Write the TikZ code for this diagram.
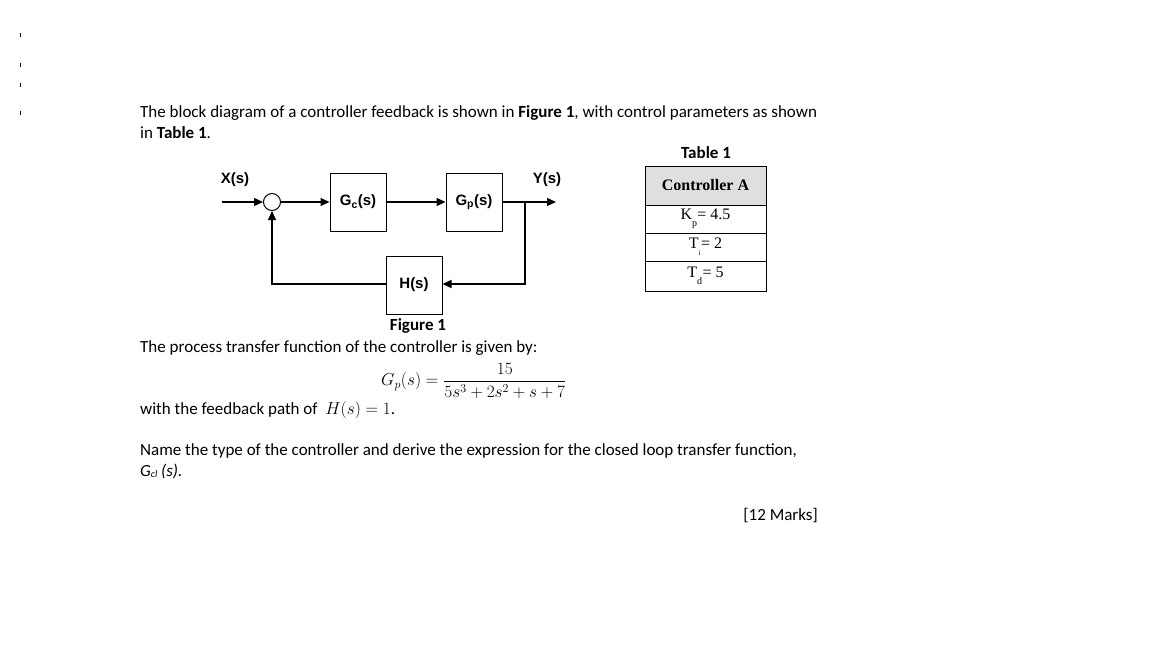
\documentclass[tikz,border=0pt]{standalone}
\usepackage{amsmath}
\usepackage{fontspec}
\setmainfont{Carlito}
\newfontfamily\tms{Liberation Serif}
\newfontfamily\hlv{Liberation Sans}
\usetikzlibrary{arrows.meta}
\tikzset{
  blk/.style={draw,line width=1pt,minimum width=56pt,minimum height=58pt,inner sep=0,font=\hlv\bfseries\fontsize{15}{17}\selectfont},
  sig/.style={line width=1.4pt},
  arr/.style={sig,-{Triangle[length=9pt,width=8pt]}},
  txt/.style={anchor=base west,inner sep=0,font=\fontsize{17}{20}\selectfont},
  cell/.style={draw,line width=0.6pt,minimum width=121pt,inner sep=0,font=\tms\fontsize{16}{18}\selectfont},
}
\begin{document}
\begin{tikzpicture}[x=1pt,y=-1pt]
\useasboundingbox (0,0) rectangle (1152,648);
% edge marks
\foreach \yy in {35,65,85,113} \draw[line width=0.8pt] (20,\yy-2) -- (20,\yy+2);

\node[txt] (l1) at (140,117) {The block diagram of a controller feedback is shown in \textbf{Figure 1}, with control parameters as shown};
\node[txt] (l2) at (140,138) {in \textbf{Table 1}.};

% block diagram
\node[draw,circle,line width=1pt,minimum size=17pt,inner sep=0] (sum) at (272,202) {};
\node[blk] (gc) at (358,202) {G$_\text{c}$(s)};
\node[blk] (gp) at (474,202) {G$_\text{p}$(s)};
\node[blk] (h) at (414,285) {H(s)};
\coordinate (in) at (222,202);
\coordinate (br) at (525,202);
\coordinate (out) at (556,202);
\coordinate (bl) at (272,284);
\node[font=\hlv\bfseries\fontsize{15}{17}\selectfont] (xs) at (235,180) {X(s)};
\node[font=\hlv\bfseries\fontsize{15}{17}\selectfont] (ys) at (547,180) {Y(s)};
\draw[arr] (in) -- (sum);
\draw[arr] (sum) -- (gc);
\draw[arr] (gc) -- (gp);
\draw[arr] (gp.east) -- (out);
\draw[arr] (br) |- (h.east |- bl);
\draw[arr] (h.west |- bl) -- (bl) -- (sum);
\node[font=\bfseries\fontsize{17}{20}\selectfont] (fig) at (418,326) {Figure 1};

% table
\node[font=\bfseries\fontsize{17}{20}\selectfont] (tt) at (706,153) {Table 1};
\node[cell,fill=gray!25,minimum height=39pt] (th) at (705.5,185.5) {\textbf{Controller A}};
\node[cell,minimum height=28pt] (r1) at (705.5,219) {K\rlap{\raisebox{-7pt}{\fontsize{10}{10}\selectfont p}}\,\,= 4.5};
\node[cell,minimum height=28pt] (r2) at (705.5,247) {T\rlap{\raisebox{-7pt}{\fontsize{7}{7}\selectfont i}}\,= 2};
\node[cell,minimum height=30pt] (r3) at (705.5,276) {T\rlap{\raisebox{-7pt}{\fontsize{10}{10}\selectfont d}}\,\,= 5};

\node[txt] (l3) at (140,352) {The process transfer function of the controller is given by:};
\node[anchor=west,inner sep=0,font=\fontsize{16.5}{19}\selectfont] (eq) at (381,381) {$G_p(s)=\dfrac{15}{5s^3+2s^2+s+7}$};
\node[txt] (l4) at (140,414) {with the feedback path of \ $H(s)=1$.};
\node[txt] (l5) at (140,455) {Name the type of the controller and derive the expression for the closed loop transfer function,};
\node[txt] (l6) at (140,476) {\itshape G\raisebox{-1pt}{\fontsize{10}{10}\selectfont cl} (s).};
\node[anchor=base east,inner sep=0,font=\fontsize{17}{20}\selectfont] (mk) at (818,520) {[12 Marks]};
\end{tikzpicture}
\end{document}
